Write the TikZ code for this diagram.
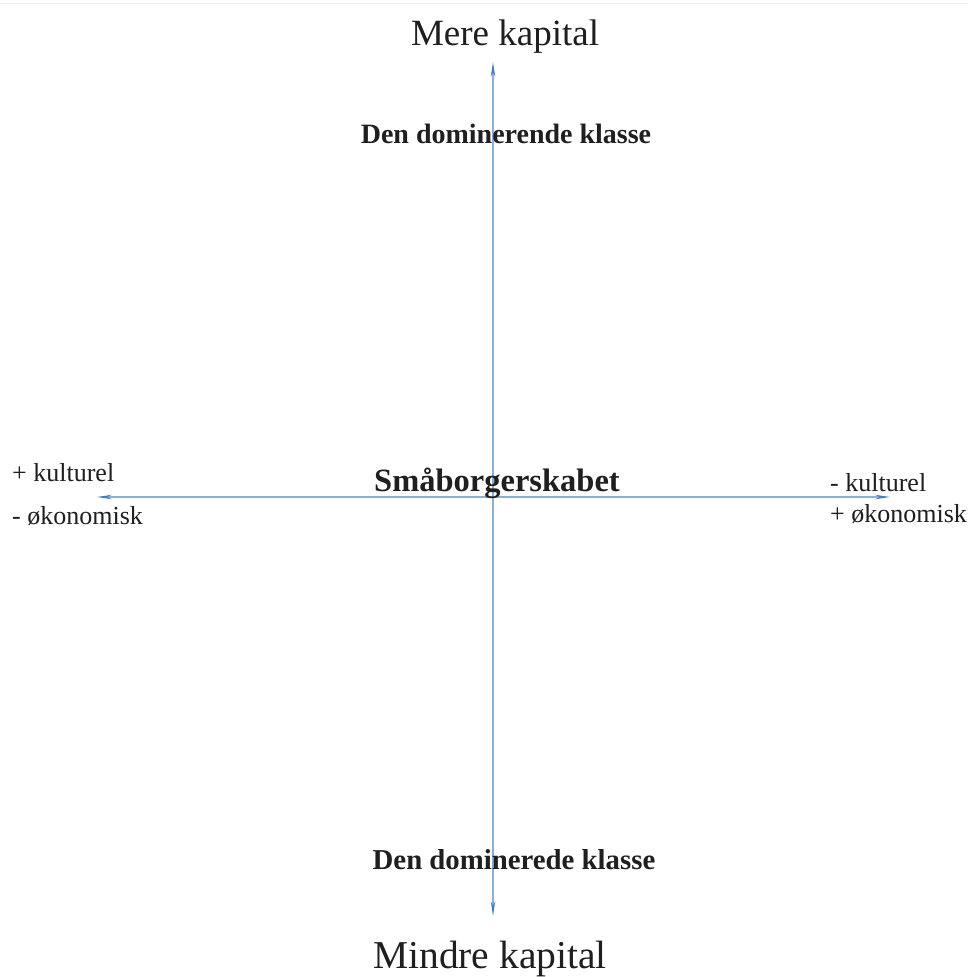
\documentclass[tikz,border=0pt]{standalone}
\usepackage{fontspec}
\setmainfont{Liberation Serif}
\usetikzlibrary{arrows.meta}
\definecolor{axisline}{HTML}{8DAEDA}
\definecolor{axistip}{HTML}{4A7EBB}
\begin{document}
\begin{tikzpicture}[x=1pt,y=-1pt,
  axis/.style={draw=axisline,line width=1.1pt,
    arrows={Stealth[length=15pt,width=4.5pt,color=axistip]-Stealth[length=15pt,width=4.5pt,color=axistip]}},
  lbl/.style={inner sep=0pt,text=black!88},
  big/.style={lbl,font=\fontsize{37}{40}\selectfont},
  bold/.style={lbl,font=\bfseries\fontsize{28}{30}\selectfont},
  side/.style={lbl,font=\fontsize{26}{28}\selectfont,anchor=base west}]
\useasboundingbox (0,0) rectangle (968,977);
\fill[white] (0,0) rectangle (968,977);
\draw[black!6,line width=0.8pt] (0,3) -- (968,3);
\coordinate (top) at (493,62);
\coordinate (bottom) at (493,916);
\coordinate (left) at (97,497);
\coordinate (right) at (890,497);
\draw[axis] (top) -- (bottom);
\draw[axis] (left) -- (right);
\node[big,anchor=base] (mere) at (505,45) {Mere kapital};
\node[big,anchor=base,font=\fontsize{39.5}{42}\selectfont] (mindre) at (490,968) {Mindre kapital};
\node[bold,anchor=base] (dom) at (506,143) {Den dominerende klasse};
\node[bold,anchor=base,font=\bfseries\fontsize{28.8}{30}\selectfont] (domd) at (514,869) {Den dominerede klasse};
\node[lbl,anchor=base,font=\bfseries\fontsize{32.5}{34}\selectfont] (smaa) at (497,491) {Småborgerskabet};
\node[side] (lk) at (12,481) {+ kulturel};
\node[side] (lo) at (12,524) {- økonomisk};
\node[side] (rk) at (830,491) {- kulturel};
\node[side] (ro) at (830,522) {+ økonomisk};
\end{tikzpicture}
\end{document}
